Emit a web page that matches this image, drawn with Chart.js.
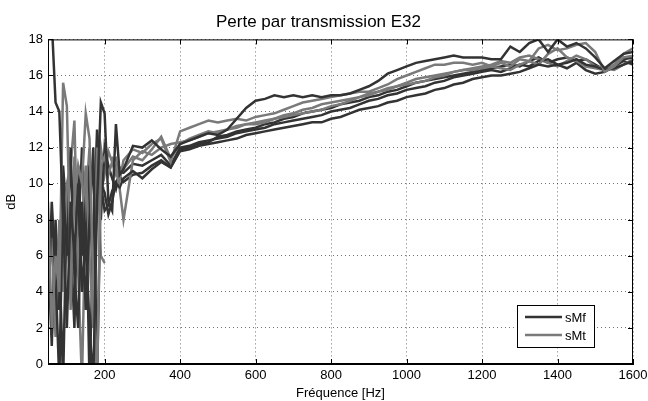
<!DOCTYPE html>
<html>
<head>
<meta charset="utf-8">
<script src="https://cdn.jsdelivr.net/npm/chart.js@4.4.0/dist/chart.umd.min.js"></script>
<style>
  html, body { margin: 0; padding: 0; background: #fff; }
  #wrap { width: 648px; height: 401px; }
</style>
</head>
<body>
<div id="wrap"><canvas id="chart"></canvas></div>
<script>
// frequency axis [Hz]
const freqHz = [50,60,70,80,90,100,110,120,130,140,150,160,170,180,190,200,210,220,230,240,
  250,275,300,325,350,375,400,425,450,475,500,525,550,575,600,625,650,675,700,725,750,775,800,825,850,875,
  900,925,950,975,1000,1025,1050,1075,1100,1125,1150,1175,1200,1225,1250,1275,1300,1325,1350,1375,1400,
  1425,1450,1475,1500,1525,1550,1575,1600];

const xTicks = [200,400,600,800,1000,1200,1400,1600];

// sMf measurements (dark)
const sMf1 = [19,19,14.5,14,8,2,9,6,10,4,7,2,-1,9,14.5,13.9,9,8.5,13.3,10.5,
  10.8,12.1,12.0,12.4,11.9,11.5,12.2,12.4,12.6,12.8,12.7,13.0,13.6,14.2,14.6,14.7,14.9,14.8,14.9,14.8,14.9,14.8,14.9,14.9,15.0,15.2,
  15.4,15.7,16.1,16.3,16.5,16.7,16.8,16.9,17.0,17.1,17.0,17.0,17.0,16.9,16.9,17.6,17.3,17.8,18.0,17.3,18.0,
  17.6,17.8,17.5,17.0,16.4,16.8,17.2,17.3];
const sMf2 = [3,9,5,-1,10,6,12,5,2,9,3,8,12,-1,10,8.5,8.8,9.6,10,9.8,
  10.3,10.7,10.3,10.8,11.2,10.9,11.8,11.9,12.1,12.2,12.3,12.4,12.5,12.7,12.8,12.9,13.0,13.1,13.2,13.3,13.4,13.4,13.6,13.7,13.9,14.1,
  14.2,14.3,14.5,14.6,14.8,14.9,15.0,15.2,15.3,15.5,15.6,15.8,15.9,16.0,16.0,16.1,16.2,16.4,16.6,16.5,16.6,
  16.7,16.9,16.6,16.5,16.3,16.4,16.6,16.8];
const sMf3 = [7,1,8,3,11,8,4,10,7,12,6,11,3,12,8,12,11,10.3,9.7,10.6,
  10.6,11.1,11.0,11.3,11.6,11.0,12.0,12.1,12.3,12.4,12.5,12.6,12.8,12.9,13.0,13.1,13.3,13.4,13.5,13.6,13.7,13.8,14.0,14.1,14.2,14.4,
  14.6,14.7,14.9,15.0,15.2,15.3,15.4,15.6,15.7,15.9,16.0,16.1,16.2,16.3,16.2,16.4,16.6,16.5,16.8,16.9,16.6,
  16.4,16.7,16.3,16.1,16.2,16.5,16.9,17.0];
const sMf4 = [5,8,2,6,-1,9,7,2,11,6,10,-1,7,13,10,9.5,8.3,9.0,10.1,10.4,
  10.1,10.5,10.6,11.0,11.3,10.9,11.9,12.0,12.2,12.3,12.6,12.7,12.9,13.0,13.1,13.3,13.4,13.6,13.7,13.9,14.0,14.1,14.2,14.4,14.5,14.6,
  14.8,14.9,15.1,15.2,15.4,15.6,15.7,15.8,15.9,16.0,16.1,16.2,16.3,16.4,16.5,16.6,16.5,16.8,17.0,16.7,16.9,
  17.0,16.8,16.9,16.6,16.3,16.5,16.8,16.6];

// sMt measurements (grey)
const sMt1 = [9,2,6,4,15.6,14.3,5.5,9,11,10,13.9,12.5,4,-1,11,11.5,10.5,11.2,11.4,10.2,
  11.3,11.9,11.7,12.2,12.5,11.2,12.9,13.1,13.3,13.5,13.4,13.5,13.6,13.5,13.7,13.8,13.9,14.1,14.3,14.5,14.6,14.7,14.8,14.9,15.0,15.1,
  15.1,15.3,15.5,15.8,16.0,16.2,16.4,16.6,16.6,16.7,16.7,16.6,16.7,16.5,16.7,16.5,16.9,16.8,17.5,17.7,17.4,
  17.5,17.7,17.8,17.3,16.2,16.5,17.0,17.1];
const sMt2 = [4,7,1.5,8,4,10,3,11.5,6,8,11,6,2,12,6,5.6,null,11.5,10.8,9.7,
  8.0,11.3,11.8,11.6,12.0,12.2,12.3,12.4,12.6,12.8,12.9,13.0,13.1,13.3,13.4,13.5,13.6,13.7,13.8,13.9,14.0,14.1,14.3,14.4,14.6,14.8,
  14.9,15.1,15.3,15.4,15.6,15.8,15.9,16.0,16.1,16.2,16.3,16.3,16.4,16.5,16.4,16.3,16.6,16.8,16.6,17.2,17.5,
  17.0,16.8,16.5,16.4,16.3,16.6,17.2,17.5];
const sMt3 = [6,1.5,7.5,4.5,7,10,11,13.5,5,-1,9,12,4,9,12,10.5,11.8,11.2,10.5,10.9,
  10.8,11.5,11.3,11.9,12.6,11.4,12.2,12.5,12.7,12.9,12.8,13.0,13.2,13.3,13.3,13.4,13.6,13.8,13.9,14.1,14.2,14.4,14.5,14.6,14.7,14.8,
  15.0,15.1,15.2,15.4,15.5,15.6,15.7,15.9,16.0,16.2,16.3,16.4,16.5,16.6,16.8,16.7,17.0,17.1,16.9,16.7,16.5,
  16.8,17.1,16.9,16.5,16.4,16.3,16.6,16.9];

const darkCol = '#333333';
const greyCol = '#7a7a7a';

function toPoints(vals) {
  return freqHz.map((f, i) => ({ x: f, y: vals[i] }));
}

function line(label, vals, color) {
  return {
    label: label,
    data: toPoints(vals),
    borderColor: color,
    borderWidth: 2.5,
    pointRadius: 0,
    tension: 0,
    fill: false,
    spanGaps: false,
    clip: 0
  };
}

// frame, inward ticks and the boxed legend (MATLAB style)
const matlabBox = {
  id: 'matlabBox',
  afterDraw(chart) {
    const ctx = chart.ctx;
    const a = chart.chartArea;
    const xs = chart.scales.x, ys = chart.scales.y;
    ctx.save();
    ctx.strokeStyle = '#000';
    ctx.lineWidth = 1;
    ctx.strokeRect(a.left + 0.5, a.top + 0.5, a.right - a.left - 1, a.bottom - a.top - 1);
    ctx.beginPath();
    xTicks.forEach(t => {
      const px = Math.round(xs.getPixelForValue(t)) + 0.5;
      ctx.moveTo(px, a.bottom); ctx.lineTo(px, a.bottom - 5);
      ctx.moveTo(px, a.top); ctx.lineTo(px, a.top + 5);
    });
    ys.ticks.forEach(t => {
      const py = Math.round(ys.getPixelForValue(t.value)) + 0.5;
      ctx.moveTo(a.left, py); ctx.lineTo(a.left + 5, py);
      ctx.moveTo(a.right, py); ctx.lineTo(a.right - 5, py);
    });
    ctx.stroke();

    // legend box
    const w = 77, h = 42;
    const x0 = a.right - 39 - w, y0 = a.bottom - 17 - h;
    ctx.fillStyle = '#fff';
    ctx.fillRect(x0, y0, w, h);
    ctx.strokeRect(x0 + 0.5, y0 + 0.5, w, h);
    const items = [['sMf', darkCol], ['sMt', greyCol]];
    ctx.font = '13px "Liberation Sans", Arial, sans-serif';
    ctx.textBaseline = 'middle';
    items.forEach((it, i) => {
      const yy = y0 + 12 + i * 18;
      ctx.strokeStyle = it[1];
      ctx.lineWidth = 2.5;
      ctx.beginPath();
      ctx.moveTo(x0 + 8, yy); ctx.lineTo(x0 + 45, yy);
      ctx.stroke();
      ctx.fillStyle = '#000';
      ctx.fillText(it[0], x0 + 48, yy + 1);
    });
    ctx.restore();
  }
};

const font = '"Liberation Sans", Arial, sans-serif';

new Chart(document.getElementById('chart'), {
  type: 'line',
  data: {
    datasets: [
      line('sMf', sMf1, darkCol),
      line('sMt', sMt1, greyCol),
      line('sMf', sMf2, darkCol),
      line('sMt', sMt2, greyCol),
      line('sMf', sMf3, darkCol),
      line('sMt', sMt3, greyCol),
      line('sMf', sMf4, darkCol)
    ]
  },
  options: {
    responsive: true,
    maintainAspectRatio: false,
    animation: false,
    layout: { padding: { left: 4, right: 15, top: 0, bottom: 0 } },
    plugins: {
      legend: { display: false },
      tooltip: { enabled: false },
      title: {
        display: true,
        text: 'Perte par transmission E32',
        color: '#000',
        font: { family: font, size: 17, weight: 'normal' },
        padding: { top: 12, bottom: 7 }
      }
    },
    scales: {
      x: {
        type: 'linear',
        min: 50,
        max: 1600,
        afterBuildTicks: s => { s.ticks = xTicks.map(v => ({ value: v })); },
        afterFit: s => { s.height = 37; s.paddingRight = 0; s.paddingLeft = 0; },
        ticks: { color: '#000', font: { family: font, size: 13 }, padding: 4, maxRotation: 0,
                 callback: v => String(v) },
        grid: { color: 'rgba(0,0,0,0.55)', drawTicks: false },
        border: { color: '#000', dash: [1, 3] },
        title: { display: true, text: 'Fréquence [Hz]', color: '#000', font: { family: font, size: 13 }, padding: { top: 0, bottom: 0 } }
      },
      y: {
        min: 0,
        max: 18,
        ticks: { stepSize: 2, color: '#000', font: { family: font, size: 13 }, padding: 5 },
        afterFit: s => { s.width = 44; },
        grid: { color: 'rgba(0,0,0,0.55)', drawTicks: false },
        border: { color: '#000', dash: [1, 3] },
        title: { display: true, text: 'dB', color: '#000', font: { family: font, size: 13 }, padding: { top: 0, bottom: 4 } }
      }
    }
  },
  plugins: [matlabBox]
});
</script>
</body>
</html>
